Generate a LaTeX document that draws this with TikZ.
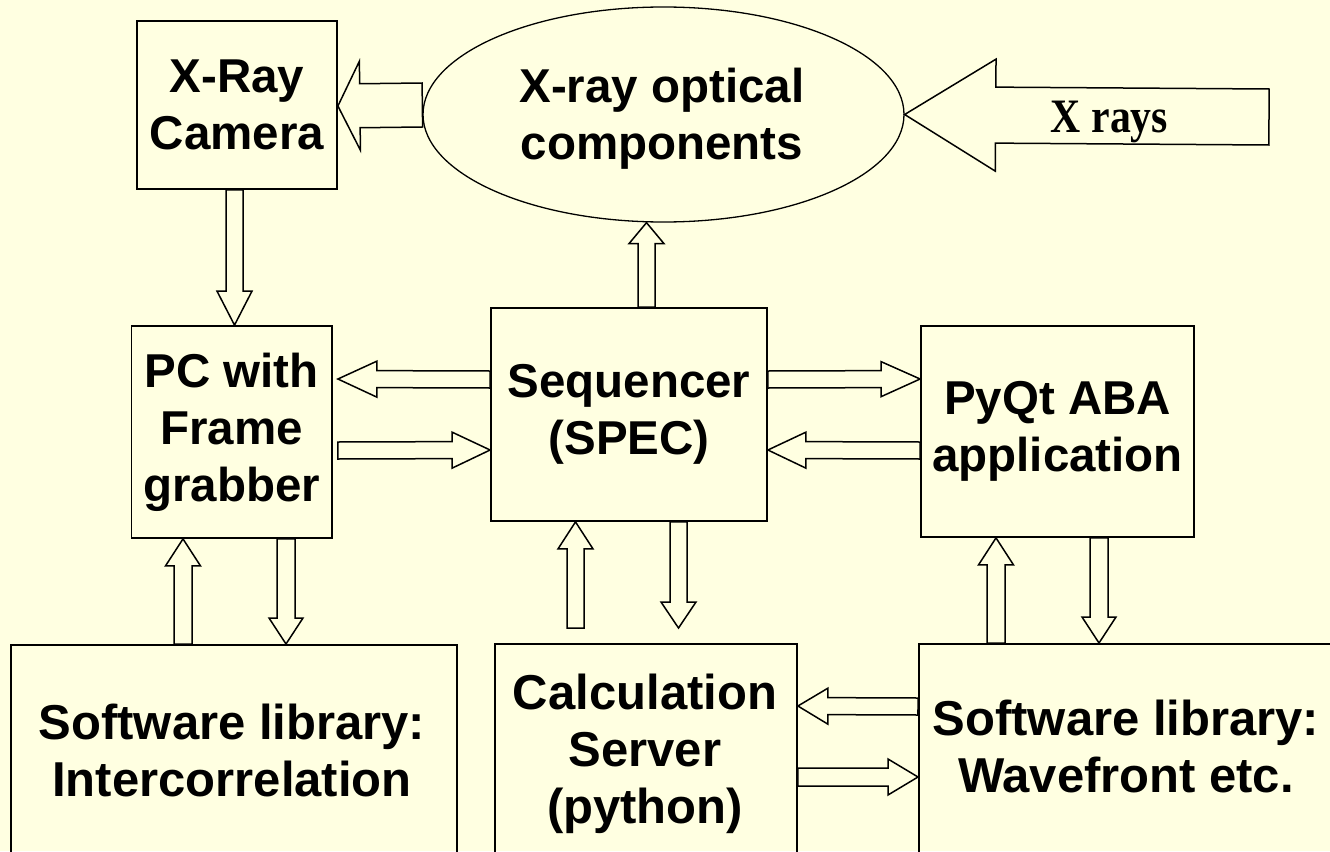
\documentclass[tikz,border=0pt]{standalone}
\usepackage{fontspec}
\setmainfont{Liberation Sans}
\newfontfamily\serifbold{Liberation Serif}
\usetikzlibrary{calc,shapes.geometric}
\definecolor{bgyellow}{HTML}{FFFFE1}
% block arrow: [options]{tail}{tip}{shaft half width}{head half width}{head length}
\newcommand{\blockarr}[6][]{%
  \coordinate (ba-t) at #2;
  \coordinate (ba-p) at #3;
  \coordinate (ba-h) at ($(ba-p)!#6!(ba-t)$);
  \draw[blockarrow,#1] ($(ba-t)!#4!90:(ba-p)$) -- ($(ba-h)!#4!90:(ba-p)$)
    -- ($(ba-h)!#5!90:(ba-p)$) -- (ba-p) -- ($(ba-h)!#5!-90:(ba-p)$)
    -- ($(ba-h)!#4!-90:(ba-p)$) -- ($(ba-t)!#4!-90:(ba-p)$) -- cycle;
}
\begin{document}
\begin{tikzpicture}[x=1pt,y=-1pt,
  bx/.style={draw=black,line width=1.8pt,rectangle,inner sep=0pt,
    font=\fontsize{47.5}{57}\selectfont\bfseries,align=center},
  btxt/.style={font=\fontsize{49}{57}\selectfont\bfseries,align=center,inner sep=0pt},
  blockarrow/.style={draw=black,line width=1.5pt,fill=bgyellow,line join=miter}]
\useasboundingbox (0,0) rectangle (1330,851);
\fill[bgyellow] (0,0) rectangle (1330,851);
\clip (0,0) rectangle (1330,851);

% boxes
\node[bx,minimum width=200pt,minimum height=168pt] (cam) at (237,105) {X-Ray\\Camera};
\node[draw=black,ellipse,line width=1.3pt,inner sep=0pt,minimum width=481pt,minimum height=215pt] (ell) at (663.5,114.5) {};
\node[font=\fontsize{47.5}{57}\selectfont\bfseries,align=center,inner sep=0pt] (elltxt) at (662,119) {X-ray optical\\components};
\node[bx,minimum width=200.5pt,minimum height=212pt] (pc) at (231.75,432) {PC with\\Frame\\grabber};
\node[bx,minimum width=276pt,minimum height=213pt] (seq) at (629,414.5) {Sequencer\\(SPEC)};
\node[bx,minimum width=273pt,minimum height=211pt] (pyqt) at (1057.5,431.5) {PyQt ABA\\application};
\node[bx,minimum width=446pt,minimum height=300pt,anchor=north] (libl) at (234,644) {};
\node[bx,minimum width=302pt,minimum height=300pt,anchor=north] (calcsrv) at (646,643) {};
\node[bx,minimum width=482pt,minimum height=300pt,anchor=north west] (libr) at (918,643) {};
\node[btxt] (libltxt) at (232,750) {Software library:\\Intercorrelation};
\node[btxt] (calctxt) at (645,753.5) {Calculation\\Server\\(python)};
\node[btxt] (librtxt) at (1126,746.5) {Software library:\\Wavefront etc.};

% arrows
\coordinate (xsrc) at (1269,117);
\blockarr{(ell.west |- 0,105)}{(cam.east |- 0,106)}{22pt}{44.5pt}{22pt}
\blockarr{(xsrc)}{(ell.east)}{28pt}{56pt}{91pt}
\node[font=\fontsize{48}{57}\selectfont\serifbold\bfseries,inner sep=0pt,anchor=base,xscale=0.87] (xlabel) at (1109.5,132) {X rays};
\blockarr{(234.5,0 |- cam.south)}{(234.5,0 |- pc.north)}{8.5pt}{17.5pt}{34pt}
\blockarr{(646.5,0 |- seq.north)}{(646.5,0 |- ell.south)}{8.5pt}{17.5pt}{21pt}
\blockarr{(seq.west |- 0,379.5)}{($(pc.east |- 0,379)+(5,0)$)}{8.5pt}{18pt}{39pt}
\blockarr{($(pc.east |- 0,450.5)+(5,0)$)}{(seq.west |- 0,450)}{8.5pt}{18pt}{38pt}
\blockarr{(seq.east |- 0,379.5)}{(pyqt.west |- 0,379)}{8.5pt}{17.5pt}{39pt}
\blockarr{(pyqt.west |- 0,450.5)}{(seq.east |- 0,450)}{8.5pt}{18pt}{38pt}
\blockarr{(183,0 |- libl.north)}{(183,0 |- pc.south)}{9pt}{17.5pt}{27pt}
\blockarr{(286,0 |- pc.south)}{(286,0 |- libl.north)}{9pt}{17pt}{26pt}
\blockarr{($(575.5,0 |- calcsrv.north)+(0,-15)$)}{(575.5,0 |- seq.south)}{8.5pt}{17.5pt}{27pt}
\blockarr{(678.5,0 |- seq.south)}{($(678.5,0 |- calcsrv.north)+(0,-15)$)}{8.5pt}{17.5pt}{26pt}
\blockarr{(996,0 |- libr.north)}{(996,0 |- pyqt.south)}{9pt}{17.5pt}{27pt}
\blockarr{(1099,0 |- pyqt.south)}{(1099,0 |- libr.north)}{9pt}{17pt}{26pt}
\blockarr{(libr.west |- 0,706.5)}{(calcsrv.east |- 0,706)}{8.5pt}{18pt}{30pt}
\blockarr{(calcsrv.east |- 0,777)}{(libr.west |- 0,777)}{9pt}{18pt}{30pt}
\end{tikzpicture}
\end{document}
